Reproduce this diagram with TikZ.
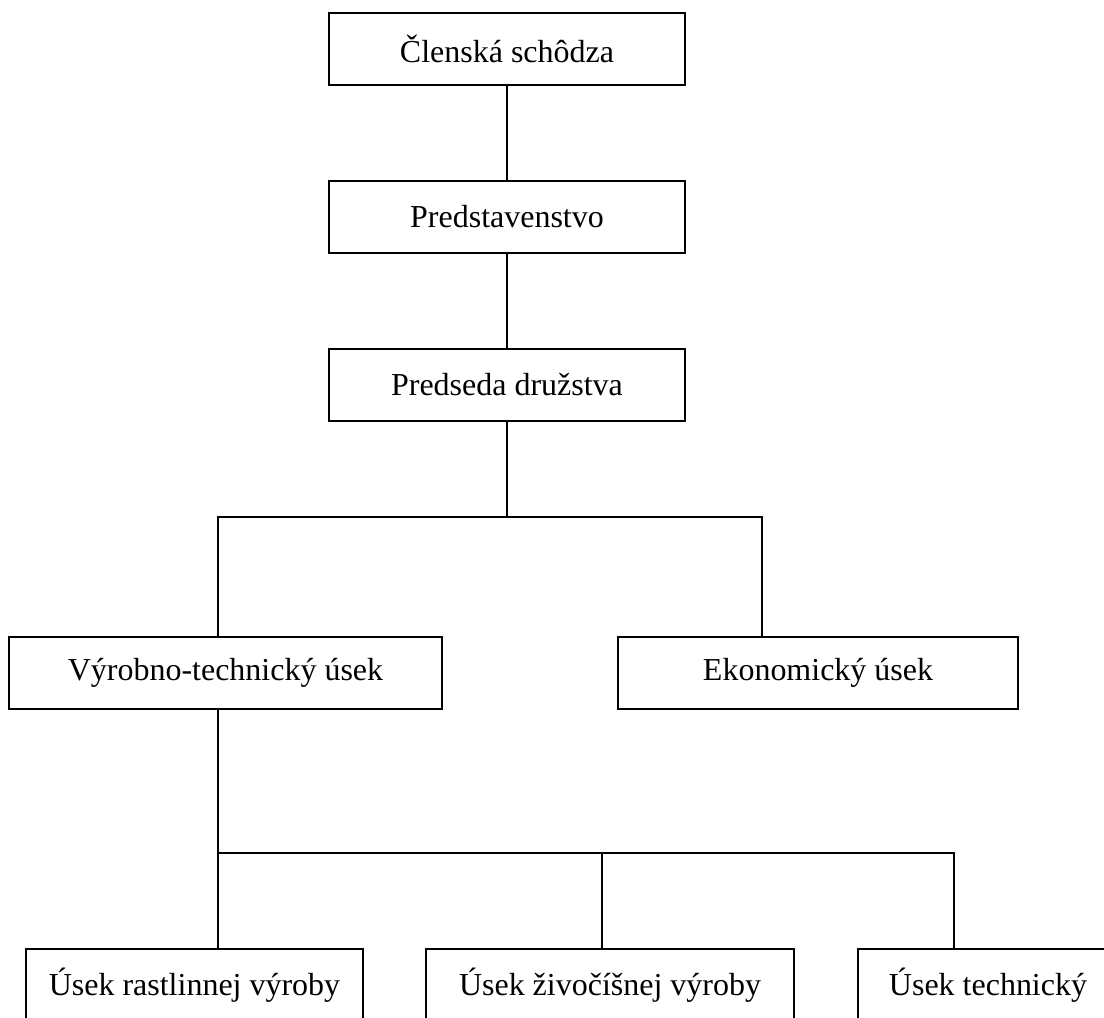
\documentclass[tikz,border=0pt]{standalone}
\usepackage{fontspec}
\setmainfont{Liberation Serif}
\tikzset{
  unit/.style={
    draw, line width=0.6pt, rectangle, inner sep=0pt,
    minimum height=0.72cm, minimum width=#1,
    font=\fontsize{9.1}{11}\selectfont
  },
  link/.style={line width=0.6pt}
}
\begin{document}
\begin{tikzpicture}
\newcommand{\busup}{-5.17}
\newcommand{\buslow}{-8.53}

\clip (0,0) rectangle (11.04,-10.17);
\node [unit=3.56cm] (cs) at (5.07,-0.49) {Členská schôdza};
\node [unit=3.56cm] (pr) at (5.07,-2.17) {Predstavenstvo};
\node [unit=3.56cm] (pd) at (5.07,-3.85) {Predseda družstva};
\node [unit=4.33cm] (vt) at (2.255,-6.73) {Výrobno-technický úsek};
\node [unit=4.00cm] (eu) at (8.18,-6.73) {Ekonomický úsek};
\node [unit=3.37cm] (ur) at (1.945,-9.85) {Úsek rastlinnej výroby};
\node [unit=3.68cm] (uz) at (6.10,-9.85) {Úsek živočíšnej výroby};
\node [unit=2.60cm] (ut) at (9.88,-9.85) {Úsek technický};
\coordinate (ba) at (2.18,\busup);
\coordinate (bb) at (7.62,\busup);
\coordinate (bc) at (2.18,\buslow);
\coordinate (bd) at (6.02,\buslow);
\coordinate (be) at (9.54,\buslow);

\draw [link] (cs.south) -- (pr.north);
\draw [link] (pr.south) -- (pd.north);
\draw [link] (pd.south) -- (pd.south |- ba);
\draw [link] (ba |- vt.north) -- (ba) -- (bb) -- (bb |- eu.north);
\draw [link] (bc |- vt.south) -- (bc) -- (be) -- (be |- ut.north);
\draw [link] (bc) -- (bc |- ur.north);
\draw [link] (bd) -- (bd |- uz.north);
\end{tikzpicture}
\end{document}
